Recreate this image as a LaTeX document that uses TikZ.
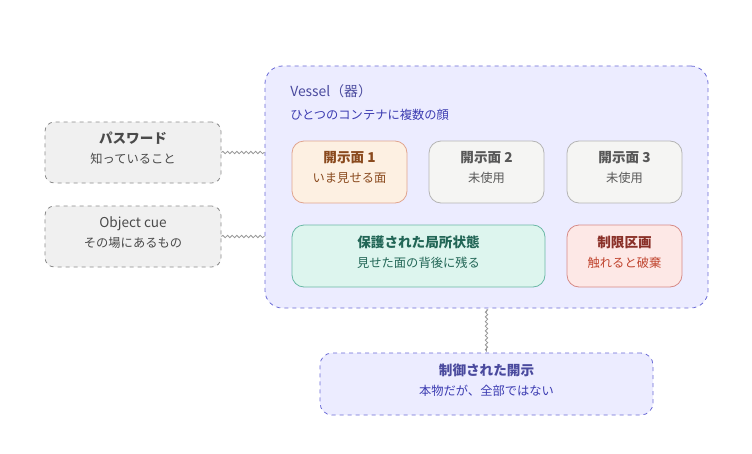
\documentclass[tikz,border=0pt]{standalone}
\usepackage{fontspec}
\setmainfont{Noto Sans CJK JP}
\usepackage{xcolor}
\usetikzlibrary{decorations.pathmorphing,positioning}

\definecolor{VesselFill}{HTML}{ECECFF}
\definecolor{VesselLine}{HTML}{6A6AD6}
\definecolor{VesselText}{HTML}{4A4A9E}
\definecolor{CueFill}{HTML}{F0F0F0}
\definecolor{CueLine}{HTML}{8A8A8A}
\definecolor{CueText}{HTML}{4A4A4A}
\definecolor{FaceFill}{HTML}{FDF0E2}
\definecolor{FaceLine}{HTML}{E0A48E}
\definecolor{FaceText}{HTML}{8A4A1E}
\definecolor{IdleFill}{HTML}{F5F5F3}
\definecolor{IdleLine}{HTML}{B4B4B4}
\definecolor{IdleText}{HTML}{585858}
\definecolor{KeepFill}{HTML}{DDF5EE}
\definecolor{KeepLine}{HTML}{6AB8A6}
\definecolor{KeepText}{HTML}{226656}
\definecolor{LockFill}{HTML}{FDE8E6}
\definecolor{LockLine}{HTML}{D68A86}
\definecolor{LockText}{HTML}{8A3028}
\definecolor{LockSub}{HTML}{C0442E}

\tikzset{
  box/.style={rounded corners=9pt, minimum width=86.25pt, minimum height=46.5pt,
    align=center, inner sep=0pt, line width=0.6pt},
  cuebox/.style={box, rounded corners=7pt, minimum width=132pt, minimum height=45.75pt,
    draw=CueLine, dashed, fill=CueFill, text=CueText},
  wave/.style={draw=CueLine!90, line width=0.6pt,
    decorate, decoration={snake, amplitude=0.9pt, segment length=3.5pt}},
}
\newcommand{\twoline}[2]{{\fontsize{10.2}{11}\selectfont\bfseries #1}\\[3pt]%
  {\fontsize{9.2}{10}\selectfont #2\rule[-7pt]{0pt}{7pt}}}

\begin{document}
\begin{tikzpicture}[x=0.75pt,y=-0.75pt]
\useasboundingbox (0,0) rectangle (752,453);
% the vessel
\node[box, rounded corners=13pt, minimum width=332.25pt, minimum height=181.5pt,
  draw=VesselLine, dashed, fill=VesselFill] (vessel) at (486.5,187) {};
\node[anchor=base west, inner sep=0pt, text=VesselText, font=\fontsize{10.4}{11}\selectfont]
  (vesselname) at (290,96) {Vessel（器）};
\node[anchor=base west, inner sep=0pt, text=VesselText!80!blue, font=\fontsize{9.2}{10}\selectfont]
  (vesselsub) at (290,119) {ひとつのコンテナに複数の顔};
%
\node[box, draw=FaceLine, fill=FaceFill, text=FaceText] (face1) at (349.5,172)
  {\twoline{開示面 1}{いま見せる面}};
\node[box, draw=IdleLine, fill=IdleFill, text=IdleText] (face2) at (486.5,172)
  {\twoline{開示面 2}{未使用}};
\node[box, draw=IdleLine, fill=IdleFill, text=IdleText] (face3) at (624.5,172)
  {\twoline{開示面 3}{未使用}};
%
\node[box, minimum width=189.75pt, draw=KeepLine, fill=KeepFill, text=KeepText] (keep) at (418.5,256)
  {\twoline{保護された局所状態}{見せた面の背後に残る}};
\node[box, draw=LockLine, fill=LockFill, text=LockText] (lock) at (624.5,256)
  {\twoline{制限区画}{\color{LockSub}触れると破棄}};
% cues on the left
\node[cuebox] (password) at (133,152.5) {\twoline{パスワード}{知っていること}};
\node[cuebox] (objectcue) at (133,236.5)
  {{\fontsize{10.2}{11}\selectfont Object cue}\\[3pt]%
   {\fontsize{9.2}{10}\selectfont その場にあるもの\rule[-7pt]{0pt}{7pt}}};
% what comes out
\node[box, rounded corners=9pt, minimum width=249.75pt, draw=VesselLine, dashed,
  fill=VesselFill, text=VesselText] (reveal) at (486.5,384)
  {\twoline{制御された開示}{\color{VesselText!80!blue}本物だが、全部ではない}};
%
\draw[wave] (password.east) -- (vessel.west |- password.east);
\draw[wave] (objectcue.east) -- (vessel.west |- objectcue.east);
\draw[wave, shorten <=3pt, shorten >=4pt] (vessel.south) -- (reveal.north);
\end{tikzpicture}
\end{document}
